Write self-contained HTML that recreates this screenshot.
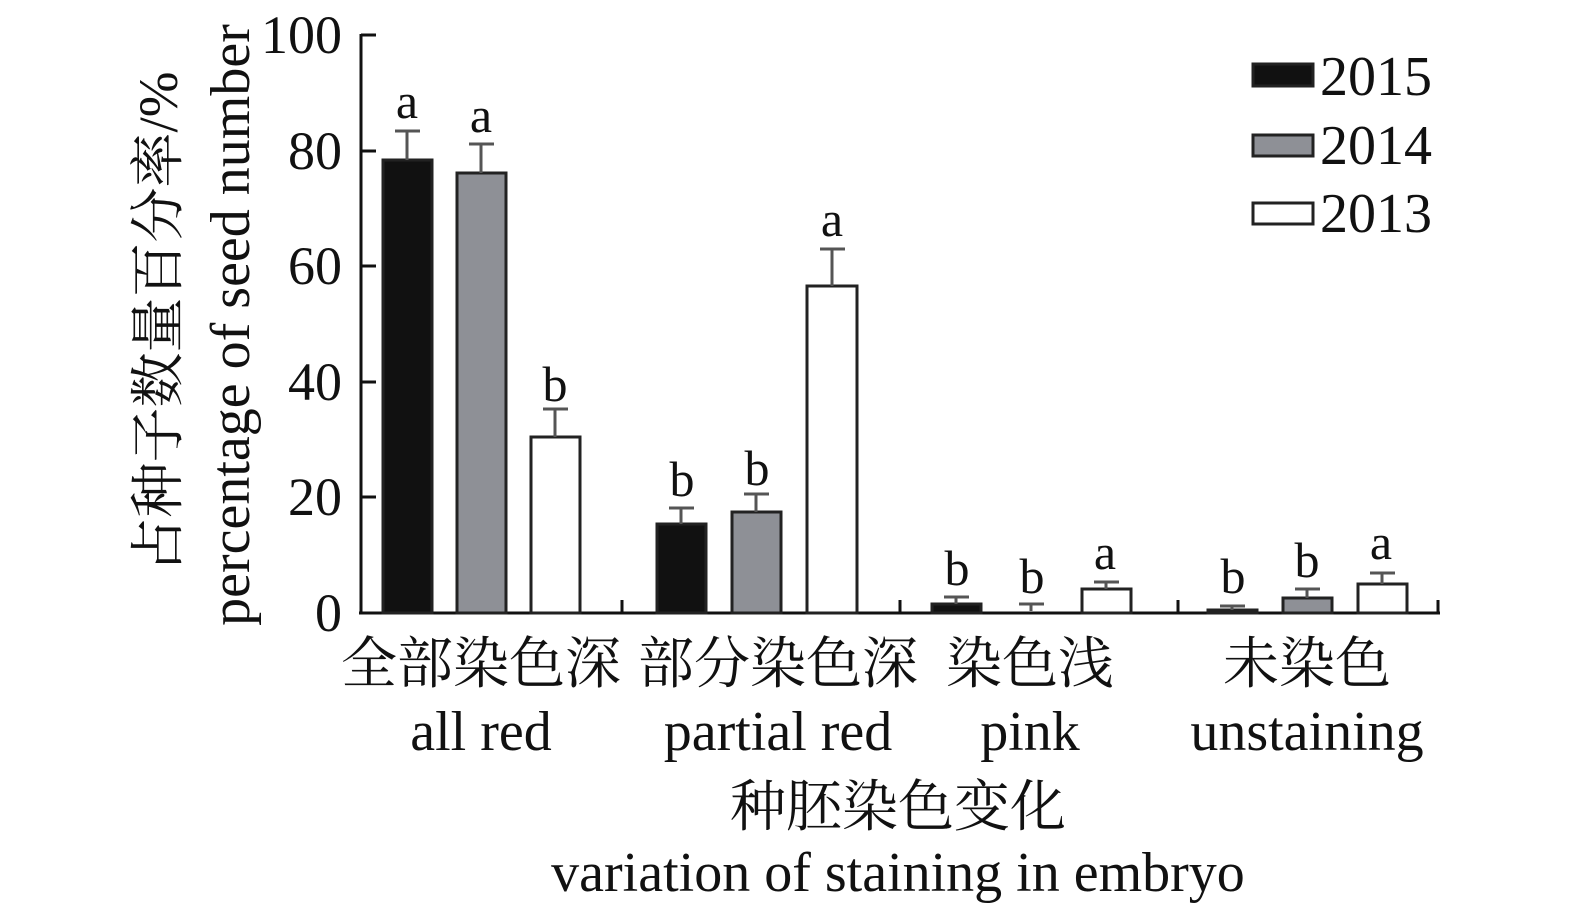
<!DOCTYPE html>
<html><head><meta charset="utf-8"><style>
html,body{margin:0;padding:0;background:#fff;}
svg text{font-family:"Liberation Serif","Noto Serif CJK SC",serif;fill:#111;}
.cj{font-family:"Liberation Serif","Noto Serif CJK SC","Noto Sans CJK SC",serif;}
</style></head><body>
<svg width="1575" height="917" viewBox="0 0 1575 917" xmlns="http://www.w3.org/2000/svg">
<g stroke="#111" stroke-width="3" fill="none">
<line x1="361" y1="34" x2="361" y2="614"/>
<line x1="359" y1="613" x2="1440" y2="613"/>
<line x1="361" y1="35" x2="376" y2="35"/>
<line x1="361" y1="151" x2="376" y2="151"/>
<line x1="361" y1="266" x2="376" y2="266"/>
<line x1="361" y1="382" x2="376" y2="382"/>
<line x1="361" y1="497" x2="376" y2="497"/>
<line x1="622" y1="613" x2="622" y2="600"/>
<line x1="900" y1="613" x2="900" y2="600"/>
<line x1="1178" y1="613" x2="1178" y2="600"/>
<line x1="1438" y1="613" x2="1438" y2="600"/>
</g>
<g font-size="54" text-anchor="end">
<text x="342" y="53">100</text><text x="342" y="169">80</text><text x="342" y="284">60</text>
<text x="342" y="400">40</text><text x="342" y="515">20</text><text x="342" y="631">0</text>
</g>
<g stroke="#222" stroke-width="3">
<rect x="383" y="160" width="49" height="453" fill="#111"/>
<rect x="457" y="173" width="49" height="440" fill="#8e9096"/>
<rect x="531" y="437" width="49" height="176" fill="#fff"/>
<rect x="657" y="524" width="49" height="89" fill="#111"/>
<rect x="732" y="512" width="49" height="101" fill="#8e9096"/>
<rect x="807" y="286" width="50" height="327" fill="#fff"/>
<rect x="932" y="604" width="49" height="9" fill="#111"/>
<rect x="1082" y="589" width="49" height="24" fill="#fff"/>
<rect x="1208" y="610" width="49" height="3" fill="#111"/>
<rect x="1283" y="598" width="49" height="15" fill="#8e9096"/>
<rect x="1358" y="584" width="49" height="29" fill="#fff"/>
</g>
<g stroke="#555" stroke-width="3">
<path d="M407 160V131M395 131H420"/>
<path d="M481 173V144M469 144H494"/>
<path d="M555 437V409M543 409H568"/>
<path d="M681 524V508M669 508H694"/>
<path d="M756 512V494M744 494H769"/>
<path d="M832 286V249M820 249H845"/>
<path d="M956 604V597M944 597H969"/>
<path d="M1031 611V604M1019 604H1044"/>
<path d="M1106 589V582M1094 582H1119"/>
<path d="M1232 610V606M1220 606H1245"/>
<path d="M1307 598V589M1295 589H1320"/>
<path d="M1382 584V573M1370 573H1395"/>
</g>
<g font-size="50" text-anchor="middle">
<text x="407" y="118">a</text><text x="481" y="132">a</text><text x="555" y="401">b</text>
<text x="682" y="496">b</text><text x="757" y="485">b</text><text x="832" y="236">a</text>
<text x="957" y="585">b</text><text x="1032" y="593">b</text><text x="1105" y="569">a</text>
<text x="1233" y="593">b</text><text x="1307" y="577">b</text><text x="1381" y="559">a</text>
</g>
<g stroke="#222" stroke-width="3">
<rect x="1253" y="64" width="60" height="22" fill="#111"/>
<rect x="1253" y="135" width="60" height="21" fill="#8e9096"/>
<rect x="1253" y="203" width="60" height="21" fill="#fff"/>
</g>
<g font-size="56">
<text x="1320" y="95">2015</text><text x="1320" y="164">2014</text><text x="1320" y="232">2013</text>
</g>
<g font-size="56" text-anchor="middle">
<text class="cj" x="481" y="683" font-size="56">全部染色深</text>
<text class="cj" x="778" y="683" font-size="56">部分染色深</text>
<text class="cj" x="1030" y="683" font-size="56">染色浅</text>
<text class="cj" x="1307" y="683" font-size="56">未染色</text>
<text x="481" y="750">all red</text>
<text x="778" y="750">partial red</text>
<text x="1030" y="750">pink</text>
<text x="1307" y="750">unstaining</text>
<text class="cj" x="898" y="826" font-size="56">种胚染色变化</text>
<text x="898" y="891">variation of staining in embryo</text>
</g>
<g font-size="56" text-anchor="middle">
<text class="cj" transform="translate(177,322) rotate(-90)" font-size="55">占种子数量百分率/%</text>
<text transform="translate(249,325) rotate(-90)">percentage of seed number</text>
</g>
</svg>
</body></html>
